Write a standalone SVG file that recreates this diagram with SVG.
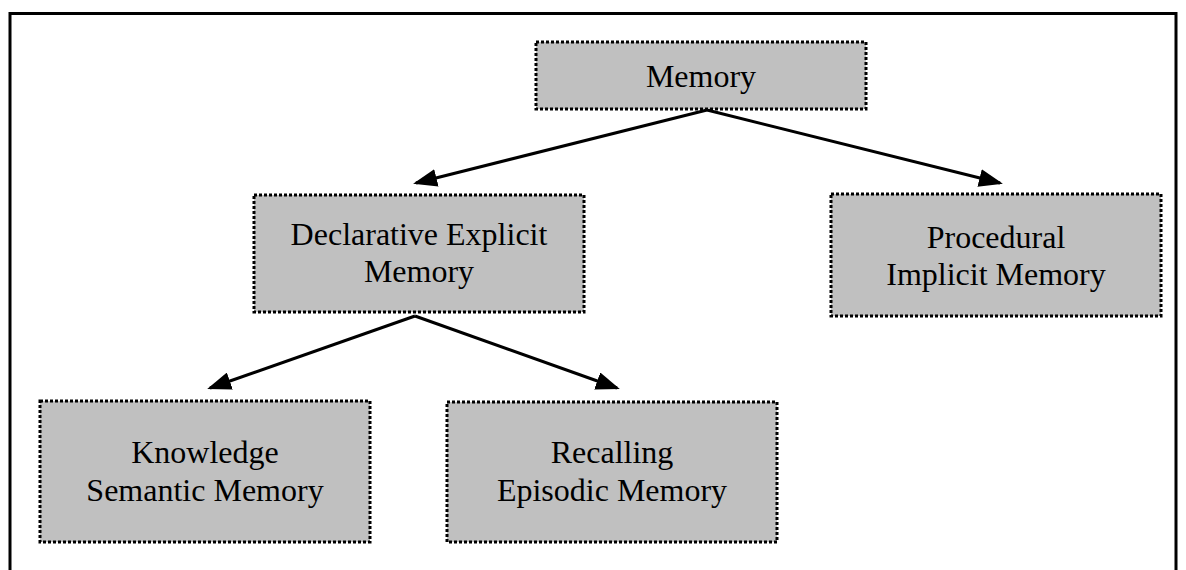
<svg xmlns="http://www.w3.org/2000/svg" width="1186" height="570" viewBox="0 0 1186 570">
<defs>
<style>
.box{fill:#c0c0c0;stroke:#000;stroke-width:3;stroke-dasharray:3 2}
.t{font-family:"Liberation Serif","Times New Roman",serif;font-size:32px;fill:#000;text-anchor:middle}
.c{stroke:#000;stroke-width:3;fill:none;marker-end:url(#ah)}
</style>
<marker id="ah" markerWidth="8" markerHeight="6" refX="7" refY="3" orient="auto" markerUnits="strokeWidth">
<path d="M0,0 L8,3 L0,6 Z" fill="#000"/>
</marker>
</defs>
<rect width="1186" height="570" fill="#fff"/>
<path d="M10,570 V13.5 H1176 V570" fill="none" stroke="#000" stroke-width="3"/>
<g id="connectors">
<line class="c" x1="707" y1="110" x2="416" y2="183"/>
<line class="c" x1="707" y1="110" x2="1000" y2="183"/>
<line class="c" x1="415" y1="316" x2="210" y2="388"/>
<line class="c" x1="415" y1="316" x2="617" y2="388"/>
</g>
<g id="memory">
<rect class="box" x="536" y="42" width="330" height="67"/>
<text class="t" x="701" y="87">Memory</text>
</g>
<g id="declarative">
<rect class="box" x="254" y="195" width="330" height="117"/>
<text class="t" x="419" y="245">Declarative Explicit</text>
<text class="t" x="419" y="282">Memory</text>
</g>
<g id="procedural">
<rect class="box" x="831" y="194" width="330" height="122"/>
<text class="t" x="996" y="248">Procedural</text>
<text class="t" x="996" y="285">Implicit Memory</text>
</g>
<g id="knowledge">
<rect class="box" x="40" y="401" width="330" height="141"/>
<text class="t" x="205" y="463">Knowledge</text>
<text class="t" x="205" y="501">Semantic Memory</text>
</g>
<g id="recalling">
<rect class="box" x="447" y="402" width="330" height="140"/>
<text class="t" x="612" y="463">Recalling</text>
<text class="t" x="612" y="501">Episodic Memory</text>
</g>
</svg>
